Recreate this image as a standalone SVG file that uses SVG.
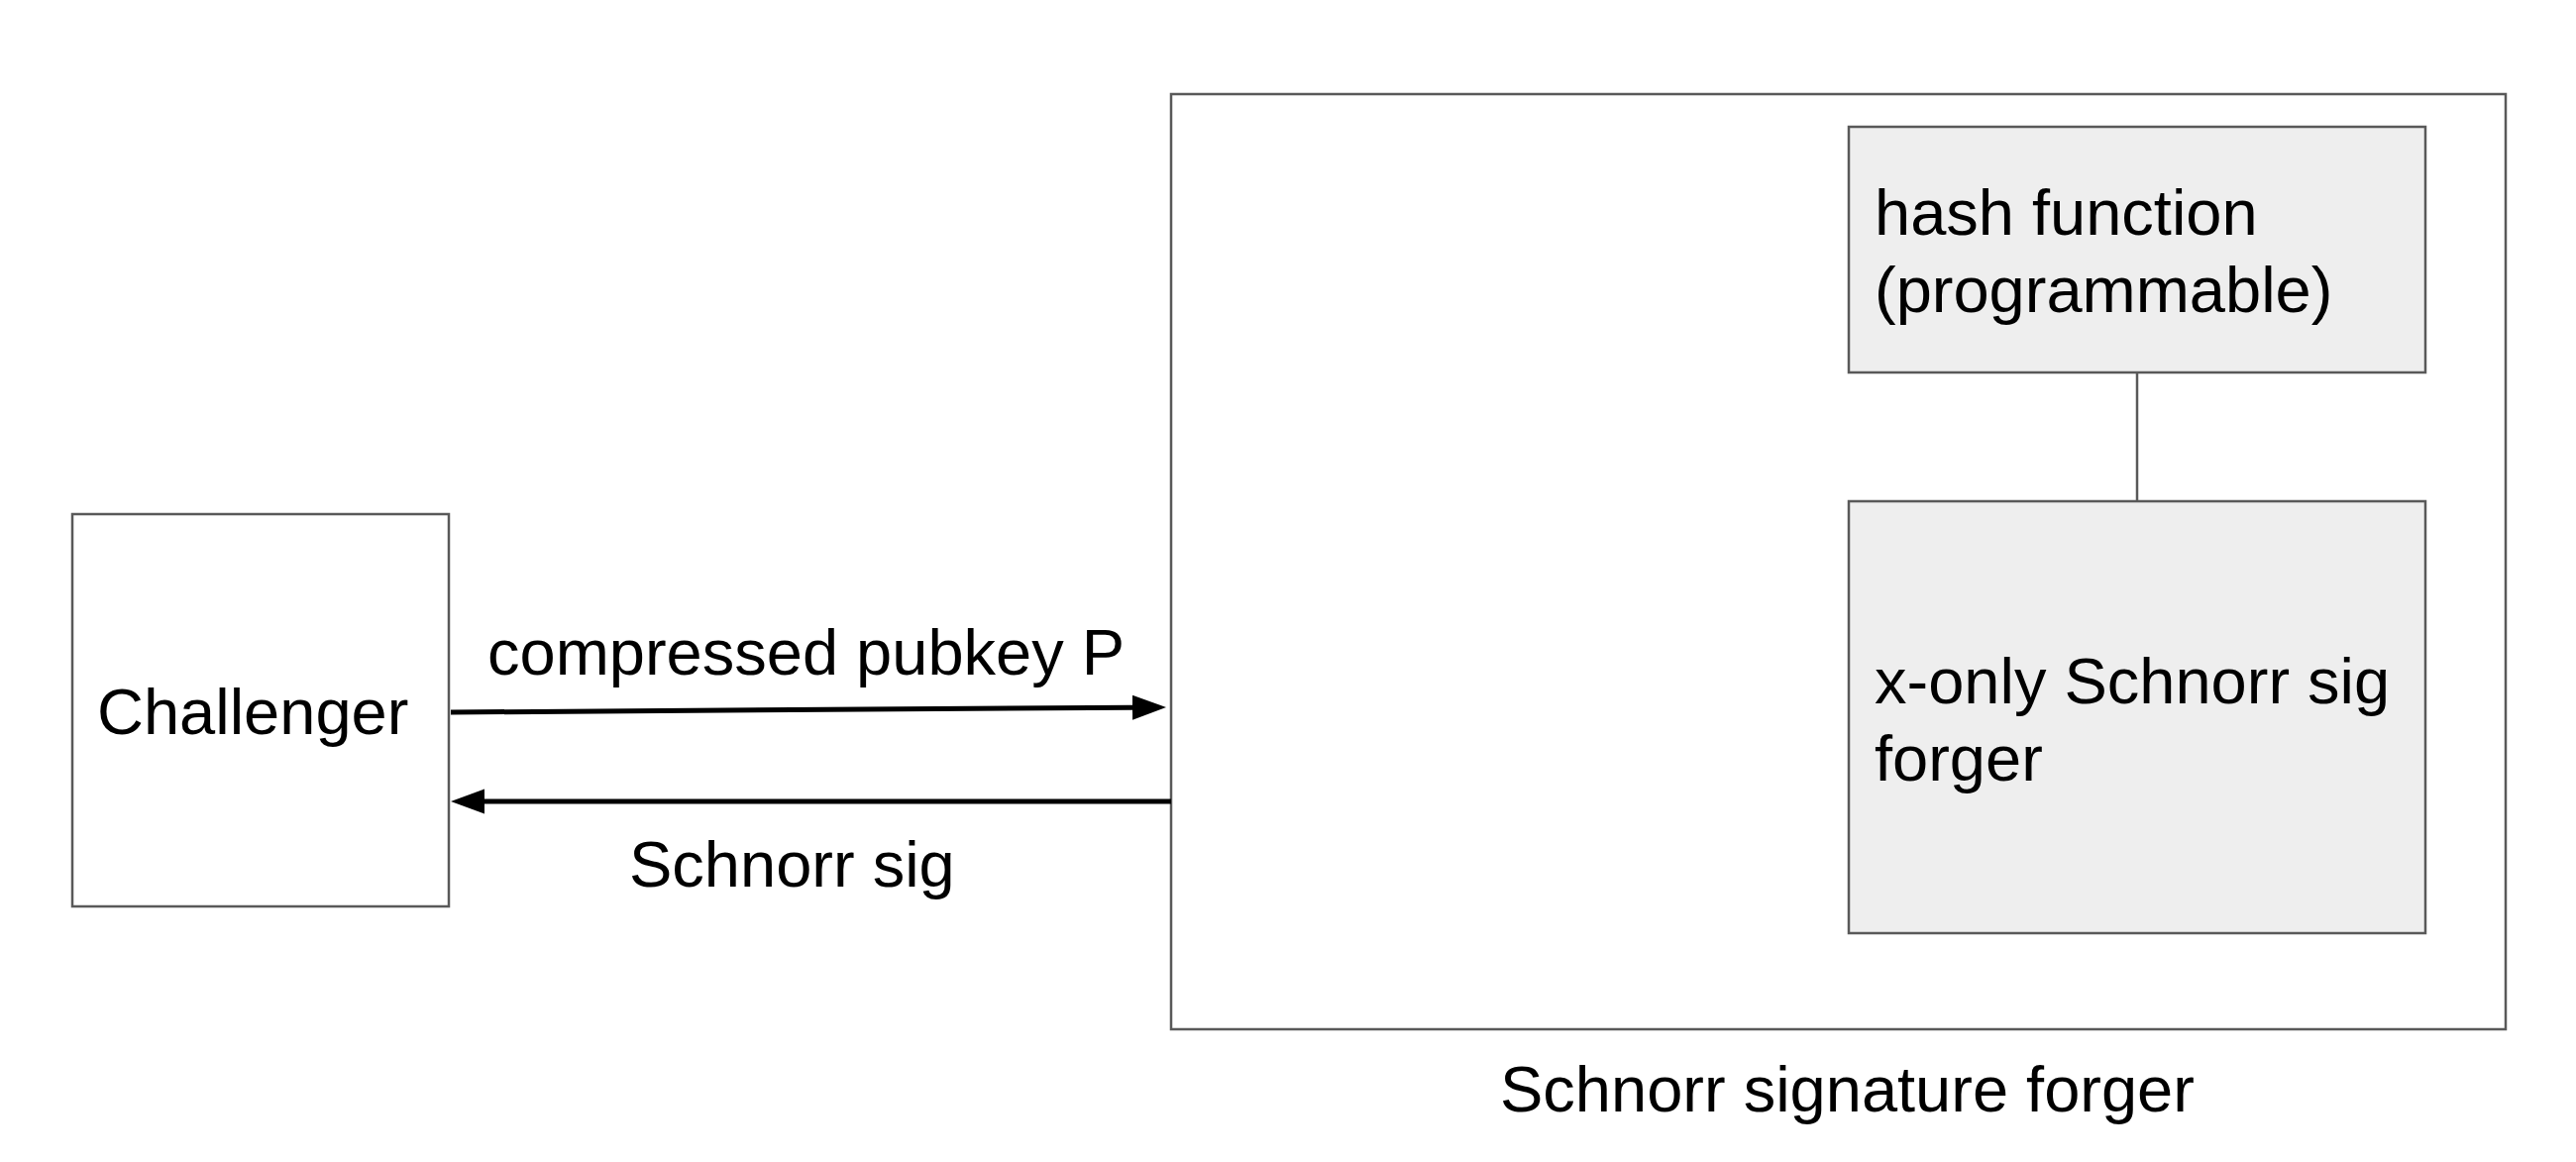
<svg xmlns="http://www.w3.org/2000/svg" width="2600" height="1173" viewBox="0 0 2600 1173">
<style>
.box{fill:#ffffff;stroke:#595959;stroke-width:2.5}
.inner{fill:#eeeeee;stroke:#595959;stroke-width:2.5}
.t{font-family:"Liberation Sans",Arial,sans-serif;font-size:65px;fill:#000000}
.arrow{stroke:#000000;stroke-width:5;fill:none}
.thin{stroke:#595959;stroke-width:2.5;fill:none}
</style>
<defs>
<marker id="ah" markerUnits="userSpaceOnUse" markerWidth="36" markerHeight="26" refX="0" refY="12.5" orient="auto">
<path d="M0,0 L34,12.5 L0,25 z" fill="#000000"/>
</marker>
</defs>
<rect width="2600" height="1173" fill="#ffffff"/>
<g id="challenger">
<rect class="box" x="73" y="519" width="380" height="396"/>
<text class="t" x="98" y="741">Challenger</text>
</g>
<g id="forger-outer">
<rect class="box" x="1182" y="95" width="1347" height="944"/>
<text class="t" x="1514" y="1122">Schnorr signature forger</text>
</g>
<g id="hash">
<rect class="inner" x="1866" y="128" width="582" height="248"/>
<text class="t" x="1892" y="237">hash function</text>
<text class="t" x="1892" y="315">(programmable)</text>
</g>
<g id="xonly">
<rect class="inner" x="1866" y="506" width="582" height="436"/>
<text class="t" x="1892" y="710">x-only Schnorr sig</text>
<text class="t" x="1892" y="788">forger</text>
</g>
<g id="connectors">
<line class="arrow" x1="455" y1="719" x2="1143" y2="714.2" marker-end="url(#ah)"/>
<line class="arrow" x1="1182" y1="809" x2="489" y2="809" marker-end="url(#ah)"/>
<line class="thin" x1="2157" y1="376" x2="2157" y2="506"/>
<text class="t" x="492" y="681">compressed pubkey P</text>
<text class="t" x="635" y="895">Schnorr sig</text>
</g>
</svg>
